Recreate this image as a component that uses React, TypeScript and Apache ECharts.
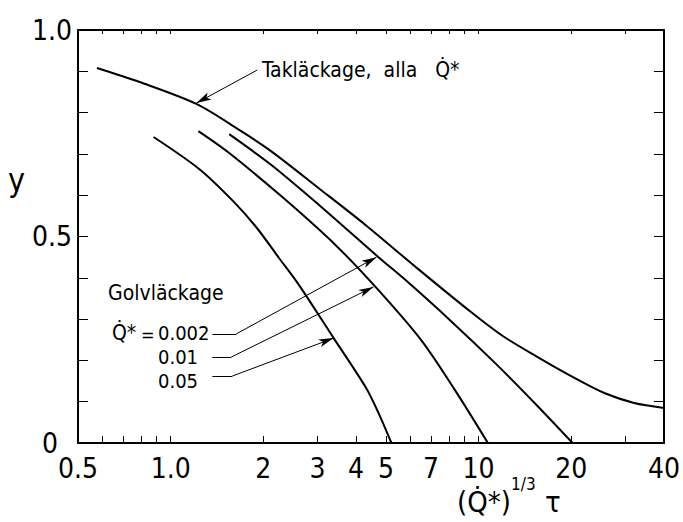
import React, { useEffect, useRef } from "react";
import * as echarts from "echarts";

// ---- data ----
const X_LABEL_VALUES = [0.5, 1.0, 2, 3, 4, 5, 7, 10, 20, 40];
const X_LABEL_TEXT = ["0.5", "1.0", "2", "3", "4", "5", "7", "10", "20", "40"];
const X_TICK_VALUES = [0.6, 0.7, 0.8, 0.9, 1, 2, 3, 4, 5, 6, 7, 8, 9, 10, 20, 30];
const Y_LABEL_VALUES = [0.5, 1.0];
const Y_LABEL_TEXT = ["0.5", "1.0"];
const Y_ZERO_VALUES = [0];
const Y_ZERO_TEXT = ["0"];

// Takläckage, alla Q*
const ceilX = [0.576, 0.793, 1.212, 1.669, 2.133, 3.026, 4.292, 6.37, 9.45, 11.98, 15.55, 20.2, 25.6, 32.0, 40];
const ceilY = [0.908, 0.874, 0.821, 0.758, 0.705, 0.617, 0.528, 0.421, 0.317, 0.259, 0.208, 0.16, 0.121, 0.097, 0.085];

// Golvläckage Q* = 0.002
const q002X = [1.549, 2.133, 3.026, 4.729, 5.78, 8.14, 11.3, 15.2, 20.2];
const q002Y = [0.748, 0.672, 0.577, 0.45, 0.395, 0.295, 0.194, 0.097, 0.0];

// Golvläckage Q* = 0.01
const q001X = [1.23, 1.549, 2.3, 3.434, 4.729, 6.51, 8.38, 10.72];
const q001Y = [0.755, 0.702, 0.596, 0.479, 0.37, 0.249, 0.128, 0.0];

// Golvläckage Q* = 0.05
const q005X = [0.88, 1.24, 1.584, 1.894, 2.248, 2.608, 3.383, 4.29, 4.729, 5.21];
const q005Y = [0.741, 0.663, 0.588, 0.523, 0.448, 0.383, 0.254, 0.136, 0.073, 0.0];

// annotation arrows: [x1, y1, x2, y2] in data units (x original scale)
const arrowCeil = [1.91, 0.903, 1.212, 0.823];
const lead002 = [1.366, 0.264, 1.632, 0.264];
const arrow002 = [1.632, 0.264, 4.66, 0.45];
const lead001 = [1.366, 0.208, 1.572, 0.208];
const arrow001 = [1.572, 0.208, 4.556, 0.378];
const lead005 = [1.366, 0.162, 1.584, 0.162];
const arrow005 = [1.584, 0.162, 3.383, 0.254];

const FONT = "'Liberation Sans Narrow', 'DejaVu Sans Condensed', 'DejaVu Sans', sans-serif";
const L = (v: number) => Math.log10(v);
const pts = (xs: number[], ys: number[]) => xs.map((x, i) => [L(x), ys[i]]);

const seg = (s: number[], arrow: boolean) => [
  { coord: [L(s[0]), s[1]], symbol: "none" },
  { coord: [L(s[2]), s[3]], symbol: arrow ? "arrow" : "none" },
];

const lookup = (vals: number[], texts: string[]) => (v: number) => {
  const i = vals.findIndex((t) => Math.abs(t - v) < 1e-6);
  return i < 0 ? "" : texts[i];
};

export default function App() {
  const ref = useRef<HTMLDivElement>(null);
  useEffect(() => {
    if (!ref.current) return;
    const chart = echarts.init(ref.current, undefined, { renderer: "svg" });
    const xMin = L(0.5);
    const xMax = L(40);
    const lineStyle = { color: "#000", width: 2 };
    const baseSeries = (name: string, data: number[][], marks: any[]) => ({
      name,
      type: "line",
      data,
      smooth: 0.3,
      showSymbol: false,
      symbol: "none",
      lineStyle,
      silent: true,
      z: 3,
      markLine: {
        silent: true,
        animation: false,
        symbolSize: [6, 15],
        label: { show: false },
        lineStyle: { color: "#000", width: 1, type: "solid" },
        emphasis: { disabled: true },
        data: marks,
      },
    });
    const xLabelFmt = (v: number) => {
      let best = 0;
      let bd = Infinity;
      X_LABEL_VALUES.forEach((t, i) => {
        const d = Math.abs(L(t) - v);
        if (d < bd) {
          bd = d;
          best = i;
        }
      });
      return X_LABEL_TEXT[best];
    };
    const axisLine = { show: true, onZero: false, lineStyle: { color: "#000", width: 2 } };
    const txt = { fill: "#000", fontFamily: FONT };
    const labelFont = { color: "#000", fontFamily: FONT, fontSize: 28 };
    chart.setOption({
      animation: false,
      backgroundColor: "#fff",
      grid: { left: 78, right: 16, top: 30, bottom: 79, containLabel: false },
      xAxis: [
        {
          type: "value",
          min: xMin,
          max: xMax,
          position: "bottom",
          axisLine,
          splitLine: { show: false },
          axisTick: {
            show: true,
            inside: true,
            length: 7,
            customValues: X_TICK_VALUES.map(L),
            lineStyle: { color: "#000", width: 1 },
          },
          axisLabel: {
            show: true,
            customValues: X_LABEL_VALUES.map(L),
            formatter: xLabelFmt,
            ...labelFont,
            lineHeight: 24,
            margin: 13,
          },
        },
        {
          type: "value",
          min: xMin,
          max: xMax,
          position: "top",
          axisLine,
          splitLine: { show: false },
          axisTick: {
            show: true,
            inside: true,
            length: 4,
            customValues: X_TICK_VALUES.map(L),
            lineStyle: { color: "#000", width: 1 },
          },
          axisLabel: { show: false },
        },
      ],
      yAxis: [
        {
          type: "value",
          min: 0,
          max: 1,
          interval: 0.1,
          position: "left",
          axisLine,
          splitLine: { show: false },
          axisTick: { show: true, inside: true, length: 10, lineStyle: { color: "#000", width: 1 } },
          axisLabel: {
            show: true,
            customValues: Y_LABEL_VALUES,
            formatter: lookup(Y_LABEL_VALUES, Y_LABEL_TEXT),
            ...labelFont,
            lineHeight: 22,
            margin: 6,
          },
        },
        {
          type: "value",
          min: 0,
          max: 1,
          interval: 0.1,
          position: "right",
          axisLine,
          splitLine: { show: false },
          axisTick: { show: true, inside: true, length: 10, lineStyle: { color: "#000", width: 1 } },
          axisLabel: { show: false },
        },
        {
          type: "value",
          min: 0,
          max: 1,
          position: "left",
          axisLine: { show: false },
          axisTick: { show: false },
          splitLine: { show: false },
          axisLabel: {
            show: true,
            customValues: Y_ZERO_VALUES,
            formatter: lookup(Y_ZERO_VALUES, Y_ZERO_TEXT),
            ...labelFont,
            lineHeight: 22,
            margin: 20,
          },
        },
      ],
      series: [
        baseSeries("Takläckage", pts(ceilX, ceilY), [seg(arrowCeil, true)]),
        baseSeries("0.002", pts(q002X, q002Y), [seg(lead002, false), seg(arrow002, true)]),
        baseSeries("0.01", pts(q001X, q001Y), [seg(lead001, false), seg(arrow001, true)]),
        baseSeries("0.05", pts(q005X, q005Y), [seg(lead005, false), seg(arrow005, true)]),
      ],
      graphic: [
        { type: "text", x: 8, y: 180, style: { ...txt, text: "y", fontSize: 32, verticalAlign: "middle" } },
        {
          type: "text",
          x: 262,
          y: 70,
          style: { ...txt, text: "Takläckage,  alla   Q\u0307*", fontSize: 21, verticalAlign: "middle" },
        },
        { type: "text", x: 108, y: 293, style: { ...txt, text: "Golvläckage", fontSize: 21, verticalAlign: "middle" } },
        { type: "text", x: 112, y: 333, style: { ...txt, text: "Q\u0307*", fontSize: 21, verticalAlign: "middle" } },
        { type: "text", x: 141, y: 334, style: { ...txt, text: "=", fontSize: 18, verticalAlign: "middle" } },
        { type: "text", x: 158, y: 333, style: { ...txt, text: "0.002", fontSize: 20, verticalAlign: "middle" } },
        { type: "text", x: 158, y: 357, style: { ...txt, text: "0.01", fontSize: 20, verticalAlign: "middle" } },
        { type: "text", x: 158, y: 381, style: { ...txt, text: "0.05", fontSize: 20, verticalAlign: "middle" } },
        { type: "text", x: 457, y: 502, style: { ...txt, text: "(Q\u0307*)", fontSize: 29, verticalAlign: "middle" } },
        { type: "text", x: 511, y: 484, style: { ...txt, text: "1/3", fontSize: 17, verticalAlign: "middle" } },
        { type: "text", x: 545, y: 502, style: { ...txt, text: "τ", fontSize: 29, verticalAlign: "middle" } },
      ],
    });
    return () => chart.dispose();
  }, []);
  return (
    <div
      ref={ref}
      style={{ position: "fixed", left: 0, top: 0, width: 683, height: 522, background: "#fff" }}
    />
  );
}
